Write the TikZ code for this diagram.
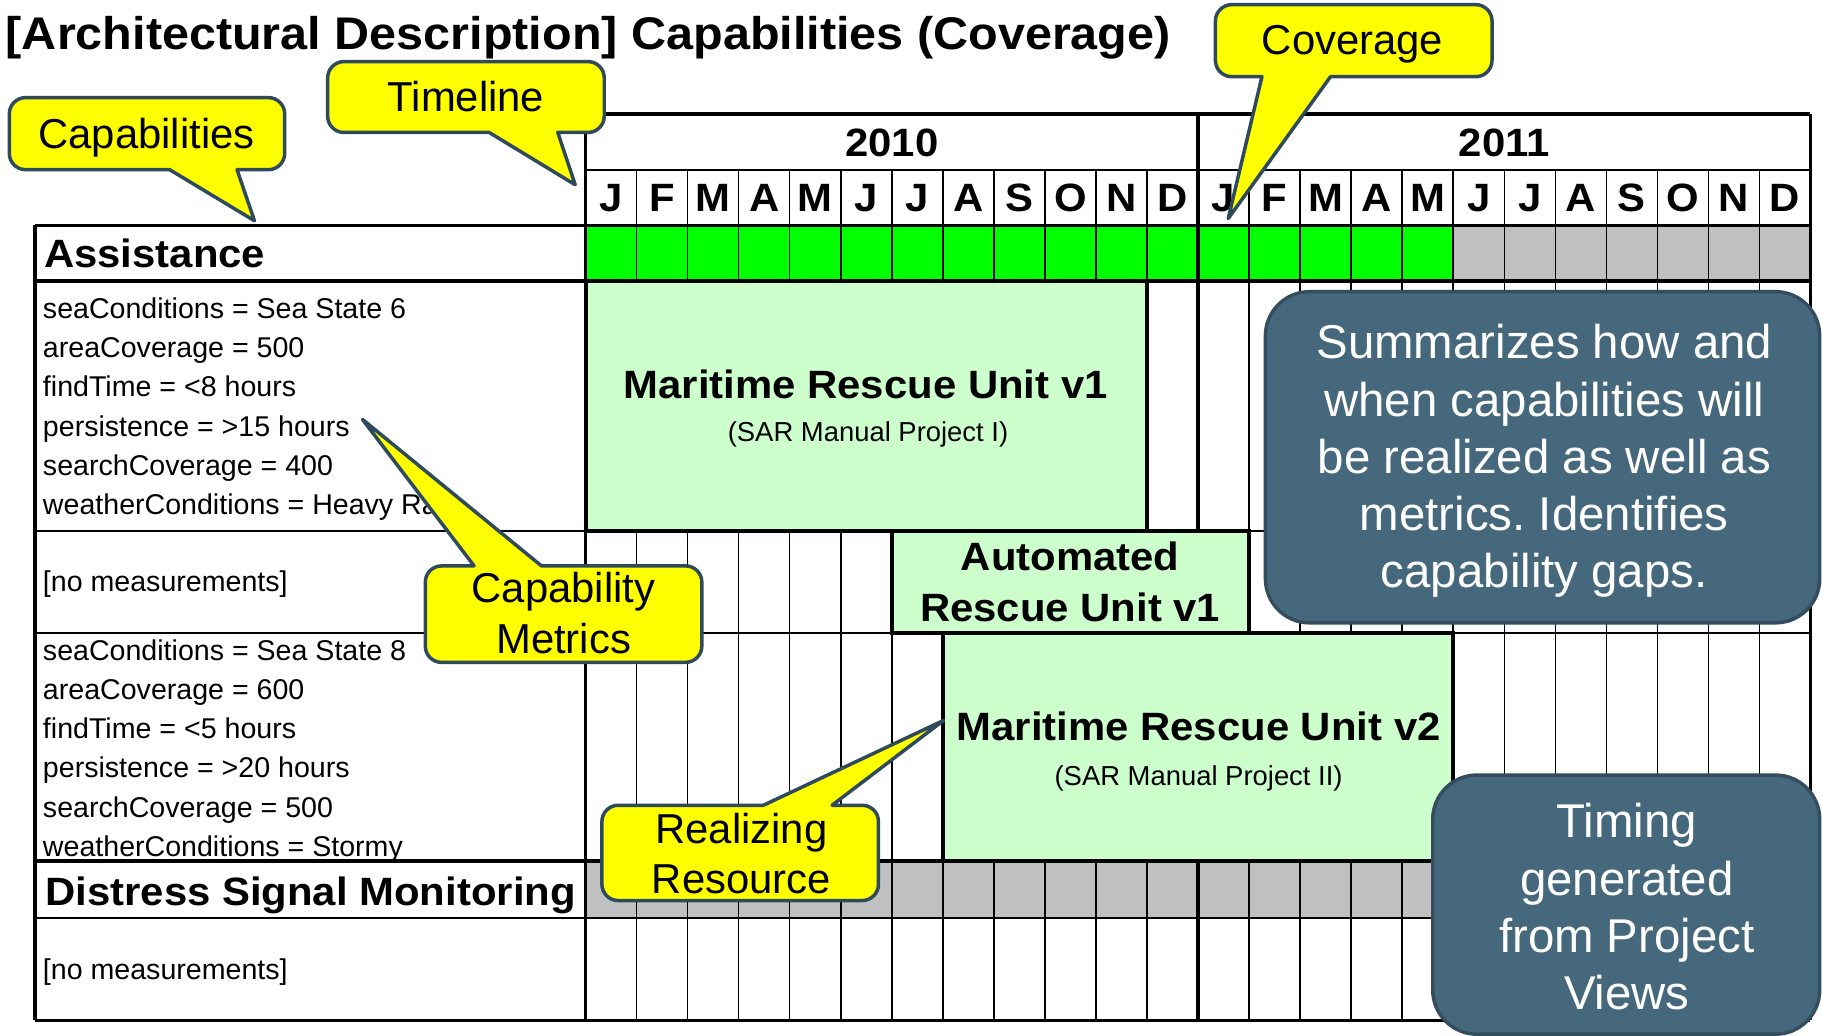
\documentclass[tikz,border=0pt]{standalone}
\usepackage{fontspec}
\setmainfont{Liberation Sans}
\newfontfamily\gridfont[FakeStretch=1.06]{Liberation Sans}
\usetikzlibrary{fit}
\frenchspacing

\definecolor{cellgreen}{HTML}{00FF00}
\definecolor{cellgray}{HTML}{C0C0C0}
\definecolor{resgreen}{HTML}{CCFFCC}
\definecolor{tipyellow}{HTML}{FFFF00}
\definecolor{tipedge}{HTML}{2F4A5C}
\definecolor{notefill}{HTML}{46687C}
\definecolor{noteedge}{HTML}{344E5F}

\begin{document}
\begin{tikzpicture}[x=0.5pt,y=-0.5pt,
  every node/.style={inner sep=0pt,outer sep=0pt},
  titletext/.style={font=\gridfont\bfseries\fontsize{19.7}{23}\selectfont, anchor=base west},
  headtext/.style={font=\gridfont\bfseries\fontsize{17}{22}\selectfont, anchor=base},
  captext/.style={font=\gridfont\bfseries\fontsize{17}{22}\selectfont, anchor=base west},
  resname/.style={font=\gridfont\bfseries\fontsize{17}{22}\selectfont, anchor=base, align=center},
  ressub/.style={font=\fontsize{11.8}{14}\selectfont, anchor=base},
  metrictext/.style={font=\fontsize{12.3}{16.9}\selectfont, anchor=base west, align=left},
  thinrule/.style={line width=0.6pt},
  midrule/.style={line width=1pt},
  heavyrule/.style={line width=1.5pt},
  resource/.style={draw, line width=1.6pt, fill=resgreen, inner sep=0pt},
  tipbox/.style={fill=tipyellow, draw=tipedge, line width=1.5pt, line join=round},
  tiptext/.style={font=\fontsize{18}{21.7}\selectfont, anchor=base, align=center},
  notebox/.style={fill=notefill, draw=noteedge, line width=1.5pt, rounded corners=19pt, inner sep=0pt},
  notetext/.style={font=\fontsize{20.4}{24.65}\selectfont, text=white, anchor=base, align=center},
]

% page
\fill[white] (0,0) rectangle (1568,891);
\useasboundingbox (0,0) rectangle (1568,891);

% heading
\node[titletext] (title) at (5,43) {[Architectural Description] Capabilities (Coverage)};

% coverage bars
\fill[cellgreen] (504,194) rectangle (1250.6,242);
\fill[cellgray] (1250.6,194) rectangle (1558,242);
\fill[cellgray] (504,741) rectangle (1558,790);

% capability column texts (multi-line blocks are placed by their last baseline)
\node[captext] (assistance) at (38,230) {Assistance};
\node[metrictext] (metricsA) at (37,443) {seaConditions = Sea State 6\\areaCoverage = 500\\findTime = <8 hours\\persistence = >15 hours\\searchCoverage = 400\\weatherConditions = Heavy Rain};
\node[metrictext] (nomeasA) at (37,509) {[no measurements]};
\begin{scope}
  \clip (30,545) rectangle (504,741);
  \node[metrictext] (metricsB) at (37,737) {seaConditions = Sea State 8\\areaCoverage = 600\\findTime = <5 hours\\persistence = >20 hours\\searchCoverage = 500\\weatherConditions = Stormy};
\end{scope}
\node[captext] (distress) at (39,779) {Distress Signal Monitoring};
\node[metrictext] (nomeasB) at (37,843) {[no measurements]};

% month columns
\foreach \i in {1,...,11,13,14,...,23}
  \draw[thinrule] ({504+43.9167*\i},146) -- ({504+43.9167*\i},878);

% rows
\draw[midrule] (504,146) -- (1558,146);
\draw[heavyrule] (30,194) -- (1558,194);
\draw[heavyrule] (30,242) -- (1558,242);
\draw[midrule] (30,457) -- (1558,457);
\draw[midrule] (30,545) -- (1558,545);
\draw[heavyrule] (30,741) -- (1558,741);
\draw[midrule] (30,790) -- (1558,790);
\draw[heavyrule] (30,878) -- (1558,878);

% frame
\draw[heavyrule] (504,98) -- (1558,98);
\draw[heavyrule] (30,194) -- (30,878);
\draw[heavyrule] (504,98) -- (504,878);
\draw[heavyrule] (1031,98) -- (1031,878);
\draw[heavyrule] (1558,98) -- (1558,878);

% timeline header
\node[headtext] (year2010) at (767.5,135) {2010};
\node[headtext] (year2011) at (1294.5,135) {2011};
\foreach \l [count=\i from 0] in {J,F,M,A,M,J,J,A,S,O,N,D,J,F,M,A,M,J,J,A,S,O,N,D}
  \node[headtext] (month\i) at ({504+43.9167*(\i+0.5)},182) {\l};

% realizing resources
\node[resource, fit={(504,242) (987.1,457)}] (mruA) {};
\node[resname] (mruAname) at (745,343) {Maritime Rescue Unit v1};
\node[ressub] (mruAproj) at (747,380) {(SAR Manual Project I)};

\node[resource, fit={(767.5,457) (1074.9,545)}] (aru) {};
\node[resname] (aruname) at (921,535) {Automated\\Rescue Unit v1};

\node[resource, fit={(811.4,545) (1250.6,741)}] (mruB) {};
\node[resname] (mruBname) at (1031.5,637) {Maritime Rescue Unit v2};
\node[ressub] (mruBproj) at (1031.5,676) {(SAR Manual Project II)};

% yellow callouts
\draw[tipbox] (219,190) -- (146,146) {[rounded corners=7pt] -- (8,146) -- (8,84) -- (245,84) -- (245,146)} -- (204,146) -- cycle;
\node[tiptext] (capnote) at (126,128) {Capabilities};

\draw[tipbox] (495,159) -- (421,114) {[rounded corners=7pt] -- (282,114) -- (282,53) -- (520,53) -- (520,114)} -- (480,114) -- cycle;
\node[tiptext] (timenote) at (401,96) {Timeline};

\draw[tipbox] (1057,188) -- (1086,66) {[rounded corners=7pt] -- (1046,66) -- (1046,4) -- (1284,4) -- (1284,66)} -- (1145,66) -- cycle;
\node[tiptext] (covnote) at (1164,47) {Coverage};

\draw[tipbox] (312,361) -- (466,487) {[rounded corners=7pt] -- (604,487) -- (604,570) -- (366,570) -- (366,487)} -- (408,487) -- cycle;
\node[tiptext] (metricnote) at (485,562) {Capability\\Metrics};

\draw[tipbox] (812,620) -- (716,693) {[rounded corners=7pt] -- (756,693) -- (756,775) -- (518,775) -- (518,693)} -- (657,693) -- cycle;
\node[tiptext] (resnote) at (638,769) {Realizing\\Resource};

% explanatory notes
\node[notebox, fit={(1089,251) (1566,536)}] (summary) {};
\node[notetext] (summarytext) at (1329,506) {Summarizes how and\\when capabilities will\\be realized as well as\\metrics. Identifies\\capability gaps.};

\node[notebox, fit={(1233,667) (1566,890)}] (timing) {};
\node[notetext] (timingtext) at (1400,869) {Timing\\generated\\from Project\\Views};

\end{tikzpicture}
\end{document}
